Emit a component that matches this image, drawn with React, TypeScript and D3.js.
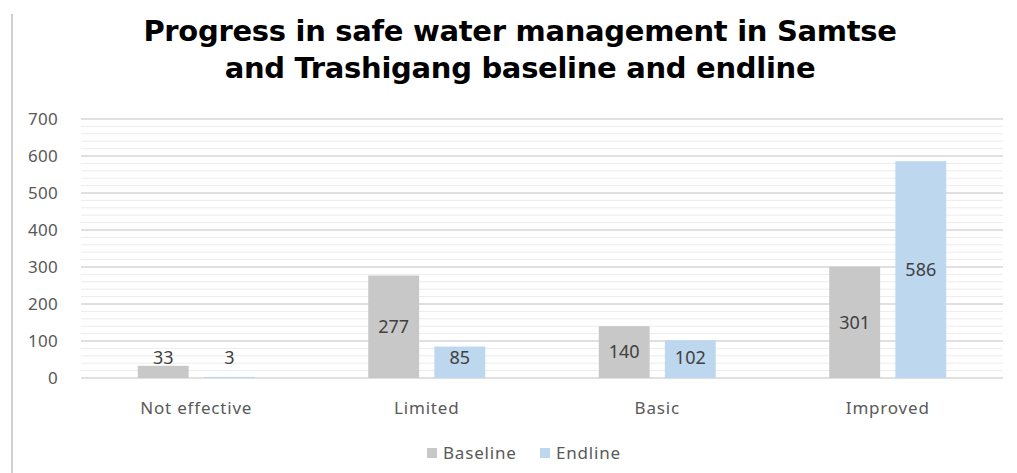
import React from "react";
import * as d3 from "d3";

const categories = ["Not effective", "Limited", "Basic", "Improved"];
const seriesNames = ["Baseline", "Endline"];
const baseline = [33, 277, 140, 301];
const endline = [3, 85, 102, 586];
const yTicks = [0, 100, 200, 300, 400, 500, 600, 700];
const titleLines = [
  "Progress in safe water management in Samtse",
  "and Trashigang baseline and endline",
];

const W = 1017;
const H = 473;
const colors = ["#c9c8c8", "#bdd7ee"];
const textColor = "#595959";
const font = "'Noto Sans', sans-serif";

function App() {
  const margin = { top: 119, right: 14, bottom: 95, left: 81 };
  const x = d3
    .scaleBand()
    .domain(categories)
    .range([margin.left, W - margin.right]);
  const y = d3.scaleLinear().domain([0, 700]).range([H - margin.bottom, margin.top]);
  const inner = d3
    .scaleBand()
    .domain(seriesNames)
    .range([0, 117])
    .paddingInner(0.23);

  const minorTicks = d3.range(0, 701, 20).filter((d) => d % 100 !== 0);
  const series = [baseline, endline];

  return (
    <svg
      width={W}
      height={H}
      style={{ position: "absolute", left: 0, top: 0, background: "#fff" }}
    >
      <line x1={12} x2={12} y1={14} y2={H} stroke="#d0d0d0" strokeWidth={2} />
      {titleLines.map((t, i) => (
        <text
          key={t}
          x={520}
          y={41 + i * 37}
          textAnchor="middle"
          fontFamily="'DejaVu Sans', sans-serif"
          fontWeight="bold"
          fontSize={29}
          letterSpacing={-0.3}
          fill="#000"
        >
          {t}
        </text>
      ))}
      {minorTicks.map((t) => (
        <line
          key={"m" + t}
          x1={margin.left}
          x2={W - margin.right}
          y1={y(t)}
          y2={y(t)}
          stroke="#ececec"
          strokeWidth={1}
        />
      ))}
      {yTicks.map((t) => (
        <g key={t}>
          <line
            x1={margin.left}
            x2={W - margin.right}
            y1={y(t)}
            y2={y(t)}
            stroke="#d6d6d6"
            strokeWidth={1.5}
          />
          <text
            x={58}
            y={y(t)}
            dy="0.35em"
            textAnchor="end"
            fontFamily={font}
            fontSize={17}
            letterSpacing={0.3}
            fill={textColor}
          >
            {t}
          </text>
        </g>
      ))}
      {categories.map((c, ci) => {
        const bx = x(c)! + (x.bandwidth() - 117) / 2;
        return (
          <g key={c}>
            {series.map((vals, si) => {
              const v = vals[ci];
              const top = y(v);
              const labelY = Math.min((top + y(0)) / 2, 358);
              const xx = bx + inner(seriesNames[si])!;
              return (
                <g key={si}>
                  <rect
                    x={xx}
                    y={top}
                    width={inner.bandwidth()}
                    height={y(0) - top}
                    fill={colors[si]}
                  />
                  <text
                    x={xx + inner.bandwidth() / 2}
                    y={labelY}
                    dy="0.35em"
                    textAnchor="middle"
                    fontFamily={font}
                    fontSize={18}
                    fill="#404040"
                  >
                    {v}
                  </text>
                </g>
              );
            })}
            <text
              x={x(c)! + x.bandwidth() / 2}
              y={408}
              dy="0.35em"
              textAnchor="middle"
              fontFamily={font}
              fontSize={17}
              letterSpacing={0.8}
              fill={textColor}
            >
              {c}
            </text>
          </g>
        );
      })}
      {seriesNames.map((s, i) => {
        const lx = i === 0 ? 427 : 540;
        return (
          <g key={s}>
            <rect x={lx} y={448} width={10} height={10} fill={colors[i]} />
            <text
              x={lx + 16}
              y={453}
              dy="0.35em"
              fontFamily={font}
              fontSize={17}
              letterSpacing={0.8}
              fill={textColor}
            >
              {s}
            </text>
          </g>
        );
      })}
    </svg>
  );
}

export default App;
